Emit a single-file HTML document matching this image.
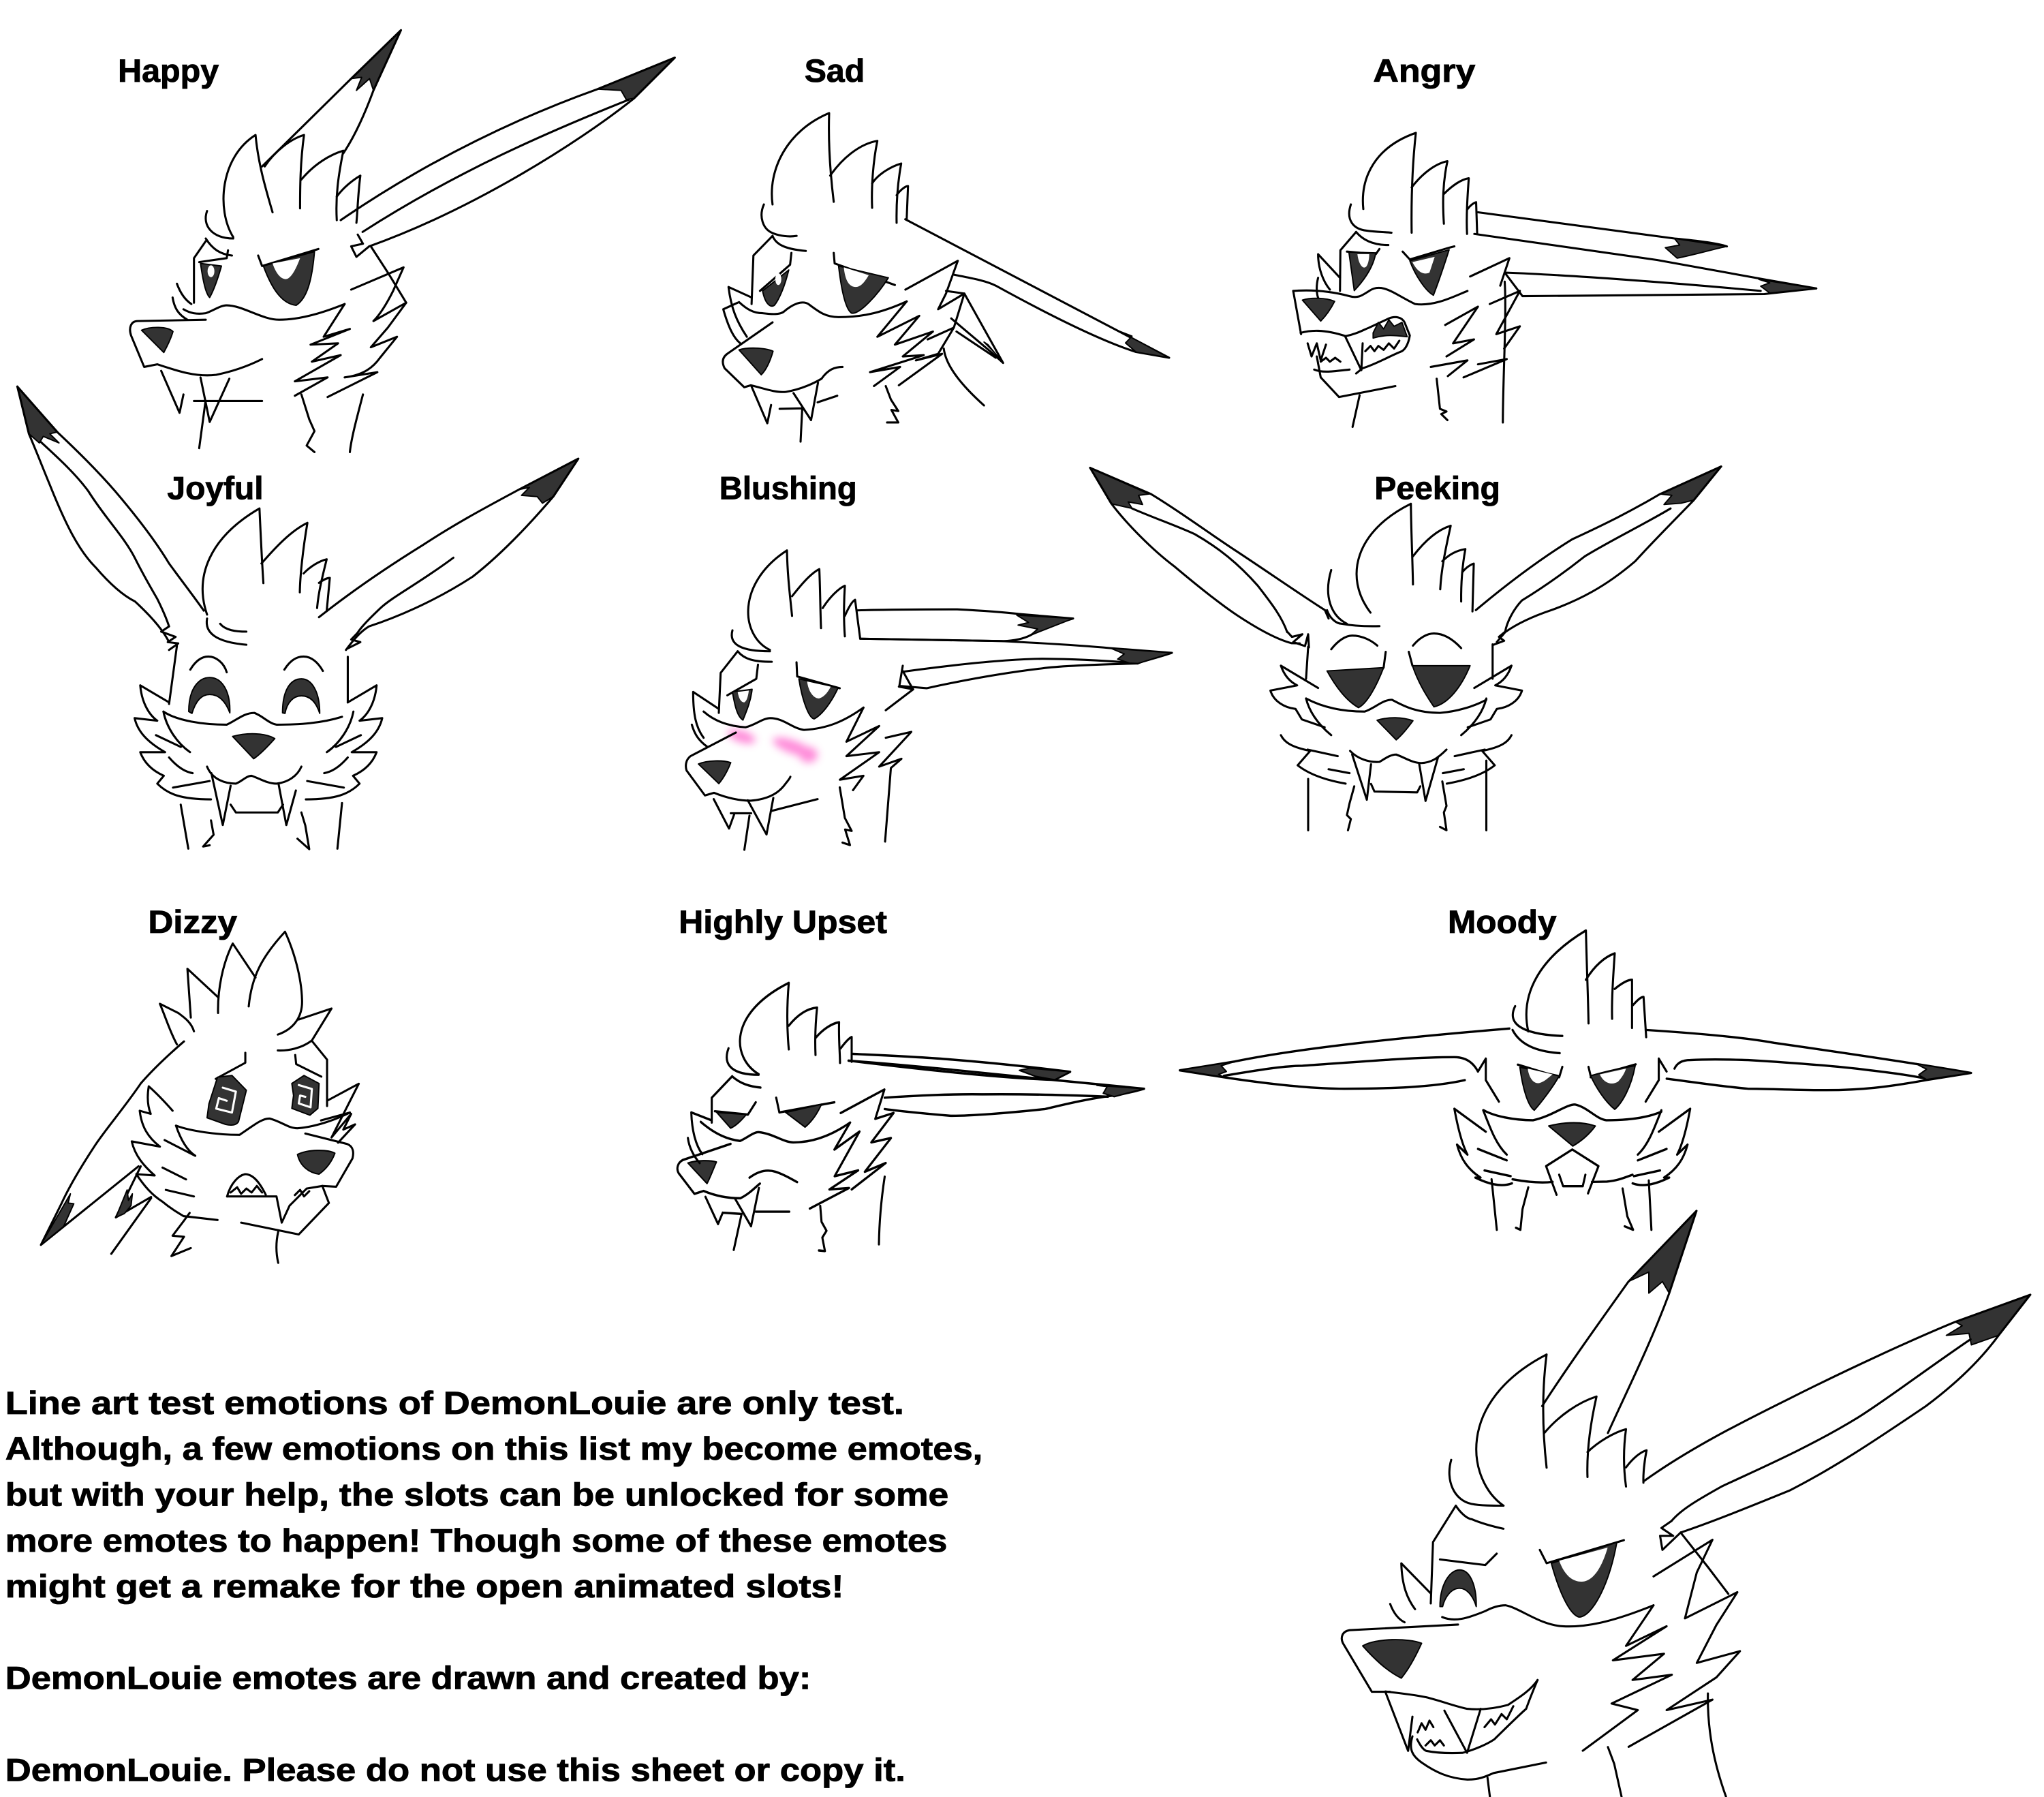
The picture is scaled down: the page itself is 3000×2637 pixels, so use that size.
<!DOCTYPE html>
<html><head><meta charset="utf-8"><style>
html,body{margin:0;padding:0;background:#fff;}
svg{display:block}
.s path,.s ellipse{fill:none;stroke:#000;stroke-width:1.6;stroke-linecap:round;stroke-linejoin:round}
.s path.k{fill:#333;stroke:#000;stroke-width:1}
.s path.w,.s ellipse.w{fill:#fff;stroke:none}
text{font-family:"Liberation Sans","DejaVu Sans",sans-serif;font-weight:bold;fill:#000;stroke:#000;stroke-width:0.45}
</style></head><body>
<svg width="3000" height="2637" viewBox="0 0 1560 1371.3" xmlns="http://www.w3.org/2000/svg">
<defs><filter id="bl" x="-50%" y="-50%" width="200%" height="200%"><feGaussianBlur stdDeviation="3"/></filter></defs>
<rect width="1560" height="1371.3" fill="#fff"/>

<!-- Labels -->
<text x="90" y="62.5" font-size="24.5" textLength="77" lengthAdjust="spacingAndGlyphs">Happy</text>
<text x="614" y="62.5" font-size="24.5" textLength="46" lengthAdjust="spacingAndGlyphs">Sad</text>
<text x="1048" y="62.5" font-size="24.5" textLength="78" lengthAdjust="spacingAndGlyphs">Angry</text>
<text x="127.6" y="381" font-size="24.5" textLength="73.4" lengthAdjust="spacingAndGlyphs">Joyful</text>
<text x="549" y="381" font-size="24.5" textLength="105" lengthAdjust="spacingAndGlyphs">Blushing</text>
<text x="1049" y="381" font-size="24.5" textLength="96" lengthAdjust="spacingAndGlyphs">Peeking</text>
<text x="113" y="712" font-size="24.5" textLength="68" lengthAdjust="spacingAndGlyphs">Dizzy</text>
<text x="518" y="712" font-size="24.5" textLength="159" lengthAdjust="spacingAndGlyphs">Highly Upset</text>
<text x="1105" y="712" font-size="24.5" textLength="83" lengthAdjust="spacingAndGlyphs">Moody</text>

<!-- Body text -->
<text x="4" y="1079" font-size="24.5" textLength="686" lengthAdjust="spacingAndGlyphs">Line art test emotions of DemonLouie are only test.</text>
<text x="4" y="1114" font-size="24.5" textLength="746" lengthAdjust="spacingAndGlyphs">Although, a few emotions on this list my become emotes,</text>
<text x="4" y="1149" font-size="24.5" textLength="720" lengthAdjust="spacingAndGlyphs">but with your help, the slots can be unlocked for some</text>
<text x="4" y="1184" font-size="24.5" textLength="719" lengthAdjust="spacingAndGlyphs">more emotes to happen! Though some of these emotes</text>
<text x="4" y="1219" font-size="24.5" textLength="640" lengthAdjust="spacingAndGlyphs">might get a remake for the open animated slots!</text>
<text x="4" y="1289" font-size="24.5" textLength="615" lengthAdjust="spacingAndGlyphs">DemonLouie emotes are drawn and created by:</text>
<text x="4" y="1359" font-size="24.5" textLength="687" lengthAdjust="spacingAndGlyphs">DemonLouie. Please do not use this sheet or copy it.</text>

<!-- ===== HAPPY ===== -->
<g class="s">
<path class="k" d="M306,23 L268,60 L276,59 L272,69 L282,60 L285,69 Z"/>
<path d="M200,127 L268,60 L306,23 L285,69 C278,88 270,105 262,117"/>
<path class="k" d="M515,44 L456,68 L474,69 L478,76 L484,75 Z"/>
<path d="M260,168 C330,120 400,88 456,68 L515,44 L484,75 C440,110 360,160 281.7,188"/>
<path d="M276.7,177 C350,130 420,100 480,76"/>
<path d="M273,179 L277,186 L268,188 L272,196 L281.7,188"/>
<path d="M178,181 C165,160 168,120 195,103 C197,125 203,145 208,162"/>
<path d="M202,127 C210,115 222,106 232,103 C229,125 229,145 229,159"/>
<path d="M230,137 C240,125 252,118 262,115 C258,135 256,150 257,168"/>
<path d="M257,150 C263,142 270,137 275,134 C273,150 273,160 272,170"/>
<path d="M158,161 C154,172 162,182 178,182"/>
<path d="M157,182 C162,190 168,194 177,195"/>
<path d="M157,184 L148,197 L148,231"/>
<path d="M152,200 L173,197 L174,191"/>
<path d="M197,195 L200,203 L243,190"/>
<path class="k" d="M153,201 C155,215 157,224 160,227 C164,220 167,210 169,203 Z"/>
<ellipse class="w" cx="161" cy="207" rx="2.6" ry="4.5"/>
<path class="k" d="M201,203 C208,222 216,232 226,233 C234,228 238,215 240,192 Z"/>
<path class="w" d="M208,201 C211,210 215,213 218,213 C222,213 226,205 229,197 Z"/>
<path d="M135,216.5 C137,222 140,228 146,232 M131.7,227 C133,235 136,240 143,244"/>
<path d="M140,236 C145,239 150,240 157,239 C163,237 168,233 173,233 C185,233 200,244 213,244 C230,244 248,238 263,232"/>
<path d="M157,244 L105,245 C100,245 98,250 100,256 L110,280 L120,278 C135,283 150,288 165,286 C180,283 192,278 200,274"/>
<path class="k" d="M108,252 C115,249 128,249 132,253 C130,260 127,265 125,269 Z"/>
<path d="M123,283 L137,315 L140,301 M153,288 L160,322 L175,289 M148,306 L200,306"/>
<path d="M156.7,307 L152,342 M230,301 L236,320 L240,329 L234,340 L240,345 M277,301 C272,320 268,335 267,345"/>
<path d="M263,232 L247,257 L267,251 L237,263 L258,262 L238,276 L260,271 L225,291 L250,288 L225,302"/>
<path d="M268,221 L308,204 L300,222 C295,232 290,240 285,245 L310,231 L296,250 L283,265 L303,257 L290,273 C285,280 278,286 263,288 L288,284 L250,303"/>
<path d="M283,188 L296,208 L310,231"/>
</g>

<!-- ===== SAD ===== -->
<g class="s">
<path d="M589.6,156 C586,130 600,100 632.8,86.3 C632,110 634,135 636.3,154"/>
<path d="M633.6,134 C642,122 655,110 669.6,107.5 C666,125 665,145 665.6,158.6"/>
<path d="M665.6,140 C670,133 680,127 687.8,124.8 C685,140 684,155 684.3,170"/>
<path d="M684.3,149 C687,145 691,142 693,142 L692,167"/>
<path d="M583,156 C579,165 582,175 590,178 C595,180 602,181 608,180"/>
<path d="M589.6,180 C592,186 598,190 615,191.5"/>
<path d="M589.6,180 L575,195 L573.6,232"/>
<path d="M573.6,227 L556,219 C558,235 562,245 570,257 M563,231 L552,236 C556,250 560,258 565,262"/>
<path d="M604,193 L603,202 L580,222 M636.3,193 L637,201 L683,217.5"/>
<path class="k" d="M582,222 C584,232 588,235 591,233 C595,228 599,218 602,206 Z"/>
<ellipse class="w" cx="594" cy="213" rx="2.3" ry="4.5"/>
<path class="k" d="M640,203 C642,220 645,236 650,239 C656,240 670,225 678,212 Z"/>
<path class="w" d="M644,204 C645,214 648,219 653,219 C657,219 660,215 663,210 Z"/>
<path d="M564,230.5 C570,236 575,239 582,239 C590,240 595,240 598,238 C605,232 612,229 617,232 C625,238 630,242 640,242 C655,242 670,240 692,230"/>
<path d="M589.6,246 L555,270 C551,273 551,277 553,281 L568,295.5 L573,294 C582,296 592,300 600,299 C612,297 622,292 627,289 C632,282 637,280 643,280"/>
<path class="k" d="M564,267 C570,265 583,265 590,268 C588,275 585,282 581,286 Z"/>
<path d="M573.6,295 L585.6,323 L588.5,309 M605.6,300 L619,320.6 L624.3,292 M595,312 L612,311.6 M624,307 L639,302 M612.3,311 L611,337"/>
<path d="M676,294.6 L680,305 L685.6,313.7 L680.3,312.8 L685.6,322.4 L677,322.4 M720.3,266 C722,280 735,295 751,309.4"/>
<path d="M690.9,167.3 L892.3,273 L867,268.6 C840,260 800,240 760,218 C752,214 740,212 728.3,209.7"/>
<path class="k" d="M855,253 L864,256.5 L859,261.7 L867,268.6 L892.3,273 Z"/>
<path d="M722,222 L736,224 L765.6,277 L758,270 L726,243 M730,253 L760,273"/>
<path class="k" d="M751,261 L754,263 L765.6,277 L759,269 Z"/>
<path d="M692,230 L669.6,257 L701.6,241 L683,263 L712,253 L689,272 L705,271 L664,284 L687,280 L667,294.6"/>
<path d="M691,221 L731,199 L722,224 L716,236 L736,224 L728,250 L708,259 L728,250 L716,270 L699,275 L719,270 L686,294"/>
</g>

<!-- ===== ANGRY ===== -->
<g class="s">
<path d="M1040.5,159.5 C1038,135 1050,112 1080.6,101.4 C1078,125 1077,150 1077.4,177.6"/>
<path d="M1077.4,143 C1085,133 1095,125 1104.7,123 C1101,140 1101,155 1102,170.7"/>
<path d="M1102,148 C1108,142 1115,137 1121,136 C1120,150 1119,165 1119.7,178.5"/>
<path d="M1119.7,160 C1122,157 1124,155 1126.6,154.3 L1127.4,178.5"/>
<path d="M1031,156 C1027,168 1033,175 1043,176 C1050,177 1056,177 1062,177.6"/>
<path d="M1035,177 C1040,183 1048,187 1059.6,187"/>
<path d="M1035,177 L1023,191 L1022.7,222"/>
<path d="M1022.7,212 L1006,194 C1006,205 1010,215 1015,221 M1006,212 C1004,220 1005,228 1008,230"/>
<path d="M1028,192 L1050,194 L1052.8,190 M1070.5,192 L1076,198 L1106,189 L1110,188"/>
<path class="k" d="M1029.5,192.4 L1050,193 C1048,205 1040,215 1033.6,221.8 Z"/>
<path class="w" d="M1036,194 C1037,202 1040,205 1042,204 C1044,203 1045,198 1045,194 Z"/>
<path class="k" d="M1076,199 C1080,210 1088,222 1094,225.3 C1098,215 1103,200 1106,190.6 Z"/>
<path class="w" d="M1078,200 C1082,208 1087,210 1091,208 L1095,196 Z"/>
<path d="M987,222 C1000,221 1015,222 1030,226 C1037,228 1040,225 1045,222 C1055,215 1065,225 1080,232 C1095,234 1110,226 1120,222"/>
<path d="M987,222 L993,255"/>
<path class="k" d="M994,229 C1000,227 1012,227 1018.6,230 C1015,237 1011,242 1008,245 Z"/>
<path d="M992.6,254 C1000,252 1010,251 1027,256.5 C1035,255 1040,252 1045,250 L1060,243 C1065,241 1070,242 1072,246 L1076,256 C1075,262 1073,266 1070,268 C1060,272 1050,278 1040,281 L1035,285"/>
<path class="k" d="M1048,254 L1052,246 L1056,251 L1060,244 L1064,249 L1070,246 L1074,257 C1065,256 1058,255 1048,258 Z"/>
<path d="M998,262 L1001,272 L1005,262 L1008,275 L1012,263 M1008,276 L1012,273 L1015,276 L1019,273 L1023,276"/>
<path d="M1026.8,257 L1039,282.5 L1040,262 M1042,268 L1046,264 L1049,268 L1052,264 L1056,267 L1060,262 L1064,266 L1068,260"/>
<path d="M1003,282 C1010,285 1020,283 1030,282 M1005,272 L1008,288 L1022,303 L1065,294.6"/>
<path d="M1037.7,301.6 L1032.3,325.8 M1096.5,289 L1099,312 L1104,314 L1100,316 L1104.7,320.6 M1148.4,214.9 C1150,240 1147,290 1147,322.4"/>
<path d="M1122,211 L1152,197 L1145,218 M1137,232 L1160,222 L1142,255 L1160,249 L1148,266 M1103,248 L1128,234 L1109,262 L1125,259 L1104,272 M1092,280 L1120,275 L1105,287 M1128,278 L1150,274 L1117,288"/>
<path d="M1128,162 L1278,182 C1300,184 1312,186 1318,188"/>
<path d="M1125.2,178.5 L1264.6,198.4 L1346.6,213.2 L1386.2,220.1"/>
<path class="k" d="M1278,182 L1282,187 L1271,189 L1280,197 C1295,194 1308,190 1318,188 Z"/>
<path d="M1148.4,208 C1200,210 1280,216 1343.8,222 M1148.4,208 L1162,226 L1346.6,224.4 L1386.2,220.1"/>
<path class="k" d="M1342.4,213.2 L1350.7,215.8 L1343.8,218.4 L1350.7,223.6 L1386.2,220.1 Z"/>
</g>

<!-- ===== JOYFUL ===== -->
<g class="s">
<path class="k" d="M13.2,295 L44,329.6 L38,331 L45,338 L33,333 L30,338 L22,331 Z"/>
<path d="M13.2,295 L22,331 C28,345 33,358 38,370 C50,400 60,420 73,433 C85,447 95,455 103,459 C115,470 124,480 129,490"/>
<path d="M13.2,295 L44,330 C60,345 75,360 88,375 C105,395 120,415 129,430 C140,445 150,458 155.5,466"/>
<path d="M30.8,337 C45,350 58,362 67.5,375 C80,395 95,410 103,426 C110,440 116,450 120,457 C124,465 127,472 129,478"/>
<path d="M129,478 L123,482 L134,486 L128,490 L136,491 L129,496"/>
<path class="k" d="M441.4,350 L396,373.6 L404,372 L398,378 L410,379 L414,384 L422.4,378.8 Z"/>
<path d="M243.4,471 C270,450 300,430 322.6,416 C350,398 375,385 396,373.6 L441.4,350 L422.4,378.8 C400,405 380,425 360.8,440 C330,460 300,472 281.6,478 C275,482 270,488 264,496"/>
<path d="M346,425.6 C320,445 300,455 290.4,464 C282,472 276,478 272.8,483"/>
<path d="M272.8,483 L268,488 L275,490 L265,495"/>
<path d="M158,469 C148,440 160,410 198,388 C199,410 200,430 201,445"/>
<path d="M199.5,430 C210,418 222,405 234.6,399 C231,420 229,440 228.8,452"/>
<path d="M231.7,437.6 C237,432 244,428 249.3,426.8 C246,440 243,452 242,464"/>
<path d="M243.4,444.8 C246,443 249,441 251.7,441 L249.3,466.4"/>
<path d="M158,472 C156,483 165,490 188,492 M168,476 C172,481 180,482 188,482"/>
<path d="M135,492.8 L129,537.2 M265.4,501.2 L265.4,536"/>
<path d="M145.2,511 C150,503 155,501 159,501 C165,501 171,506 173,513"/>
<path d="M217,511 C222,503 227,501 231.7,501 C238,501 243,506 246.4,512"/>
<path class="k" d="M144,543 C144,525 152,517 160,517 C169,517 176,527 175.4,544 C172,535 167,530 160,530 C153,530 149,536 146.5,544.4 Z"/>
<path class="k" d="M215.6,544 C215.6,526 222,518 230,518 C238,518 244,528 244,544.4 C241,535 236,531 230,531 C224,531 219,536 217.5,544.4 Z"/>
<path d="M124.7,543 C135,550 155,553 173,553 C180,550 186,544 194,544 C200,546 205,552 211,553 C228,553 245,552 261,547"/>
<path class="k" d="M177.5,562 C188,559 202,559 209.7,563.6 C204,570 198,576 193.6,579 Z"/>
<path d="M158,585 C162,595 172,598 180,598 C185,596 188,592 192,592 C198,594 204,598 211,598 C220,597 227,592 230,585"/>
<path d="M161.3,590 L170,629.6 L176,599.6 M212.6,598.4 L218.5,629.6 L225.8,603.2 M176,614 L180,620 L212,620 L216,614"/>
<path d="M137.9,614 L143.7,647.6 M161,626 L163,637 L155,646 L160,645 M227,640 L236,648 L233,630 L230,620 M261,612.8 L257.5,647.6"/>
<g>
<path d="M107,523 L129,536 M107,523 C108,535 113,545 120,550 L102.7,548 C105,558 112,566 126,574 L107,574 C110,582 116,588 125,592 L120,598 C128,606 138,610 161,610"/>
<path d="M124.7,543 C127,555 135,567 145,574 M119,561 L138,570 M129,578 C135,585 141,589 147,590 M132,601 L160,596"/>
</g>
<g transform="translate(394.4,0) scale(-1,1)">
<path d="M107,523 L129,536 M107,523 C108,535 113,545 120,550 L102.7,548 C105,558 112,566 126,574 L107,574 C110,582 116,588 125,592 L120,598 C128,606 138,610 161,610"/>
<path d="M124.7,543 C127,555 135,567 145,574 M119,561 L138,570 M129,578 C135,585 141,589 147,590 M132,601 L160,596"/>
</g>
</g>

<!-- ===== BLUSHING ===== -->
<g filter="url(#bl)" fill="#ff6fd0" opacity="0.8">
<ellipse cx="566" cy="562" rx="11" ry="4.5" transform="rotate(18 566 562)"/>
<ellipse cx="605" cy="570" rx="16" ry="5" transform="rotate(20 605 570)"/>
<ellipse cx="617" cy="576" rx="7" ry="6"/>
</g>
<g class="s">
<path d="M587.6,496 C565,485 562,445 600.6,420 C601,440 603,455 604.5,470"/>
<path d="M604.5,455 C610,448 618,438 625.3,434.3 C626,450 626,465 626.6,479.3"/>
<path d="M627.9,464 C633,456 640,449 644.8,447 C644,460 644,475 644.8,485.6"/>
<path d="M644.8,470 C647,465 650,459 652.6,457.7 L656.5,487.4"/>
<path d="M559,481 C556,492 566,497 587.6,497 M563,497 C568,503 575,505 589,505"/>
<path d="M563,497 L550,513.5 L548.6,544"/>
<path d="M653.9,465.8 C680,465 710,465 730.6,465 C750,466 765,467 777.4,468.5 L819,472 C805,476 795,480 786.5,484.7 C780,488 772,489 765.7,489.2 L656.5,487.4"/>
<path class="k" d="M776,469.4 L785,475 L777,477 L792,480 L786.5,484.7 L819,472 Z"/>
<path d="M656.5,487.4 C700,488 740,489 764.4,489.2 C800,491 830,493 847.6,494.6 L894.4,498.2 C880,503 870,505 868.4,506.3 C840,507 810,508 795.6,510 C770,513 740,518 707.2,525.2 L686.4,523.4 L689,508"/>
<path d="M689,512.6 C730,507 770,503 795.6,502.7 C830,503 855,505 868.4,506.3"/>
<path class="k" d="M847.6,494.6 L858,499 L853,503 L862,506 L868.4,506.3 L894.4,498.2 Z"/>
<path d="M578.5,507.2 L577.2,518 L555.1,530.6 M607.9,505.4 L608.4,516.2 L640.9,525.2"/>
<path class="k" d="M559,528 C561,540 563,547 567,549.5 C570,542 573,535 574,526 Z"/>
<path class="w" d="M563,528 C564,534 566,536 568,536 C570,535 571,531 571.5,527 Z"/>
<path class="k" d="M609.7,518 C612,533 617,548 621.4,548.6 C628,545 635,535 639.6,525 Z"/>
<path class="w" d="M616,520 C617,528 621,533 625,533 C629,532 632,528 634,524 Z"/>
<path d="M537,543 C545,550 555,554 569,555 C577,553 582,548 588,548 C598,548 605,556 613.6,557 C632,556 645,550 659,540"/>
<path d="M561.6,559 L527,577 C523,580 523,585 524,588 L538,607 L545,605 C555,609 565,611 573,611 C585,610 593,606 598,600 C601,596 603,594 603.2,592.7"/>
<path class="k" d="M533,583 C540,580 552,580 557.7,582 C555,589 552,594 548.6,598 Z"/>
<path d="M544.7,609.8 L556.4,632.3 L560.3,621.5 M570.7,610.7 L585,636.8 L590.2,608.9 M557.7,620.6 L573.3,620.6 M588.9,618.8 L624,609.8"/>
<path d="M572,622.4 L568.1,648.5 M640.9,600.8 L644.8,624.2 L650,634.1 L645,633 L648.7,644.9 L643,643 M679.9,586.4 L675.5,642.2"/>
<path d="M548.6,541 L529,528 C529,545 531,555 537,563 M528,553 C530,560 533,565 540,570"/>
<path d="M659,540 L646,566 L671,554 L646,577 L671,574 L641,595 L659,592 L651,603"/>
<path d="M686,524 L697,526 L676,542 M676,563 L695.5,558.5 L671,585 L688,579 L680,586 M689,512 L696.8,526"/>
</g>

<!-- ===== PEEKING ===== -->
<g class="s">
<path class="k" d="M832,357 L877,377 L869,378 L872,385 L861,383 L864,388 L848,384.4 Z"/>
<path d="M832,357 L848,384 C860,400 880,420 896,432 C915,448 930,460 944,469.4 C960,480 975,488 985.6,490.8 L992,491"/>
<path d="M832,357 L878.4,377 C900,390 920,405 944,420.8 C970,438 990,452 1011.2,465.6 L1014,472"/>
<path d="M864,388 C880,395 900,402 912,407.7 C930,418 945,430 960,447 C970,460 978,470 982.4,482.4"/>
<path d="M982.4,482 L986,486 L994,484 L987,490 L996,493 L998.4,484 L999,494"/>
<path class="k" d="M1313.6,356 L1267,377 L1276,378 L1270,385 L1283,384 L1292.8,381.6 Z"/>
<path d="M1313.6,356 L1292.8,381.6 C1275,400 1260,415 1248,428.3 C1225,448 1205,458 1184,465.6 C1165,472 1155,478 1148.8,482.4 L1142.4,489.9"/>
<path d="M1313.6,356 L1267,377 C1245,390 1225,400 1200,411.5 C1170,430 1145,450 1126.4,465.6"/>
<path d="M1275,388 C1255,400 1230,412 1209.6,424.5 C1190,440 1175,450 1161.6,458.2 C1155,465 1150,475 1148.8,482"/>
<path d="M1148.8,482 L1144,486 L1148,489 L1140,492"/>
<path d="M1046,467.5 C1025,440 1035,405 1076.8,384.4 C1077,405 1078,425 1078.4,446"/>
<path d="M1078.4,424.5 C1088,412 1098,404 1107.2,401.2 C1103,420 1100,435 1099.2,449.7"/>
<path d="M1100.8,428.3 C1106,423 1112,420 1118.4,419 C1116,432 1115,445 1115.2,459"/>
<path d="M1116,436.7 C1119,433 1122,431 1124.8,430.1 L1123.8,466.6"/>
<path d="M1016,435 C1010,455 1016,470 1028,476 M1012.8,465.6 C1015,472 1020,476 1024,476 C1035,478 1045,478 1052.8,477.8"/>
<path d="M998.4,493.6 L996.8,517.9 M1139.2,491.7 L1139.2,517.9"/>
<path d="M1016,495.5 C1021,489 1027,485 1032,485 C1040,485 1047,489 1051.2,492.7 M1078.4,492.7 C1083,487 1089,483.4 1094.4,483.4 C1103,483.4 1110,489 1115.2,494.6"/>
<path d="M1057.6,497.4 L1056,509.5 M1075.2,497.4 L1078,508"/>
<path class="k" d="M1012.8,512 L1056,509.5 C1050,525 1043,537 1036.8,540 C1028,535 1020,525 1012.8,512 Z"/>
<path class="k" d="M1078,508 L1122,508 C1115,525 1105,537 1094.4,539.4 C1088,530 1082,520 1078,508 Z"/>
<path d="M996.8,533 C1010,540 1025,543 1041.6,543 C1050,540 1055,534 1062.4,534 C1070,538 1080,544 1099,544 C1112,543 1125,539 1134.4,534"/>
<path class="k" d="M1051,549.6 C1060,547 1070,547 1078.4,550 C1074,556 1070,561 1065.6,564.6 Z"/>
<path d="M1030.4,573 C1036,579 1045,582 1052.8,581.4 C1057,579 1061,575.8 1065.6,575.8 C1072,578 1078,582.3 1084.8,582.3 C1092,582 1097,579 1104,572"/>
<path d="M1032,575.8 L1043.2,610.3 L1046.4,583.2 M1083.2,583.2 L1088,611.2 L1097.6,577.6 M1046.4,598.2 L1049,604 L1081.6,604.7 L1084,600"/>
<path d="M998.4,594.4 L998.4,633.6 M1033.6,600 L1030,613 L1028,622 L1031,625 L1028.8,633.6 M1100.8,596.3 L1104,615 L1102,620 L1104,633.6 L1099,631 M1134.4,580.4 L1134.4,633.6"/>
<g>
<path d="M977.6,508 L1006,525 M977.6,508 C980,515 984,520 990,523 L969.6,527 C972,535 980,540 988.8,541 L993.6,549 L1011,555 M977.6,561 C980,566 985,570 1000,573 L990.4,584 C998,590 1010,595 1027,598"/>
<path d="M996.8,533 C999,542 1005,552 1016,561 M998,572 L1021,577 M1014,587 L1030,590"/>
</g>
<g transform="translate(2131.2,0) scale(-1,1)">
<path d="M977.6,508 L1006,525 M977.6,508 C980,515 984,520 990,523 L969.6,527 C972,535 980,540 988.8,541 L993.6,549 L1011,555 M977.6,561 C980,566 985,570 1000,573 L990.4,584 C998,590 1010,595 1027,598"/>
<path d="M996.8,533 C999,542 1005,552 1016,561 M998,572 L1021,577 M1014,587 L1030,590"/>
</g>
</g>

<!-- ===== DIZZY ===== -->
<g class="s">
<path d="M189.8,768 C192,745 200,730 217.5,711 C224,725 230,745 230.5,763 C231,775 225,785 212,789.5"/>
<path d="M166.4,773 C166,755 170,735 177.6,720 L195,746"/>
<path d="M145.6,776.5 L143,739.3 L166.4,761"/>
<path d="M148,787 C146,780 140,776 136,773 L122,766 C127,778 130,788 135,797"/>
<path d="M228,778 L253,769.6 L238,794 M212,801.6 C220,802 230,800 238,794"/>
<path d="M238.3,794.7 L249.6,808.6 L249.6,844"/>
<path d="M249.6,840 L273.8,827 L253,868 L268,850 L262,862 L271,858 L258,872 M245,855 L267,849"/>
<path d="M140.4,794.7 C125,808 115,818 107.4,826.8 C95,845 82,860 72.8,873.6 C62,890 53,905 46.8,918.6 L31.2,950 L105.7,890"/>
<path class="k" d="M31.2,950 L53.7,911 L52,918 L56.3,918.6 L48.5,936 Z"/>
<path d="M88.4,929 L107.4,890 M88.4,929 L115.3,913.4 M84.9,956.8 L115.3,914.3"/>
<path class="k" d="M88.4,929 L97,908 L98,916 L101,911 L100,920 L95,926 Z"/>
<path d="M187.2,803.4 L187.2,811 L164.6,823.3 M225.3,805.1 L226,812 L245.2,821.6"/>
<path class="k" d="M166,822 L177,820.7 L188,832 L182,856 C180,859 176,859 172,858 L158,853 L159.4,842.4 Z"/>
<path class="k" d="M222.7,826.8 L232,820.7 L243.5,826.8 L242.6,845.8 L236.5,851 L222.7,845.8 L224,836 Z"/>
<g style="stroke:#fff;stroke-width:1.8">
<path style="stroke:#fff" d="M170,830 L180,833 L177,849 L165,846 L167,838 L173,840"/>
<path style="stroke:#fff" d="M228,828 L238,831 L237,845 L228,842 L229,836 L233,837"/>
</g>
<path d="M134.3,859 C145,863 165,866 182.8,866 C192,860 200,853 206,853.6 C215,856 220,861 227,861 C240,860 255,855 267,849"/>
<path d="M233,865 L265,873 C270,875 270,880 269,884 L256.5,905.6 L246,905"/>
<path class="k" d="M227,881 C235,877 250,877 255.6,880 C253,887 249,892 243.5,896 C236,895 229,890 227,881 Z"/>
<path d="M173.3,913 C176,903 182,897 187,896 C193,896 198,902 202.8,911.7 M176,910 L181,906 L184,911 L188,907 L192,910 L196,905 L200,910"/>
<path d="M173.3,913 L211,913 L215,933 L221,920 L234,907 L246,905 M246,905 L251,918 L228,942 L184,933 M225,912 L229,908 L232,913 L236,909"/>
<path d="M212.3,940 C210,950 211,958 212.3,963.7 M144.7,925.6 L140,932 L131.7,943 L140.4,943.8 L130.8,958.5 L145.6,952.4"/>
<path d="M131.7,847.6 C125,840 118,833 113.5,829 C112,838 113,845 115,850 L106.6,847.6 C108,860 113,868 122,875 L100.5,871 C103,882 110,890 118,897 L104,896 C110,905 116,912 124,917 C130,922 135,925 140,928 L166,931"/>
<path d="M134.3,859 C138,870 143,878 149,882 M125.6,870 L149,882 M124,891 L142,900 M126.5,908 L148,913"/>
</g>

<!-- ===== HIGHLY UPSET ===== -->
<g class="s" transform="translate(0,-90.9) scale(1,1.122)">
<path d="M579,811.6 C558,800 556,770 602,749.5 C600,770 601,785 602,794.7"/>
<path d="M602,778.6 C608,772 615,767 623.6,766.3 C622,780 622,790 622.4,798.5"/>
<path d="M622.4,787 C628,781 635,777 640.4,776.3 C640,788 641,796 641.1,803.9"/>
<path d="M641.6,794 C645,790 648,787 650,786.3 L650,803.1"/>
<path d="M556,794 C551,806 560,812 579,812 M558.8,813.1 C565,818 572,820 580.4,820.7"/>
<path d="M558.8,813 L543.2,827.6 L543.2,844.5"/>
<path d="M651.2,797.8 C680,799 705,800 725.6,801.6 C760,804 790,807 816.8,810 L804.8,815.4 C780,814 730,808 647.6,802.4"/>
<path class="k" d="M778,809 L786,807.5 L816.8,810 L805,815.4 L790,813 Z"/>
<path d="M647.6,802.4 C700,808 760,814 802.4,815.4 L873.2,821.5 C860,825 850,826 843.2,826.9 C820,830 800,835 797.6,835.3 C770,838 740,840 725.6,839.9 C700,838 680,836 675.2,835.3"/>
<path d="M675.2,827.6 C700,826 730,825 749.6,825.3 C790,825 820,826 845.6,826.9"/>
<path class="k" d="M837.2,819.2 L845,820 L842,824.6 L850.4,826.9 L873.2,821.5 Z"/>
<path d="M576.8,830.7 L570.8,839.1 L545.6,836.8 M592.4,827.6 L594.8,837.6 L636.8,830.7"/>
<path class="k" d="M547,837.6 L569.6,839 C565,844 561,847 557.6,848.3 Z"/>
<path class="k" d="M599.6,837.6 L627,832 C623,840 618,845 614.4,847.6 Z"/>
<path d="M534.8,844 C545,852 555,856 564.8,857 C570,855 575,851 579,851 C590,852 598,858 605.6,858 C625,858 640,850 648.8,844.5"/>
<path d="M557.6,859 L521,870 C517,872 516,876 518,879 L530,893 L537,891 C545,894 555,896 565,896 C572,893 577,888 580,886"/>
<path d="M572,882 C578,878 585,876 592,878 C599,880 604,883 608.4,885"/>
<path class="k" d="M525,872 C532,870 542,870 546.8,871.3 C544,877 542,882 539.6,886 Z"/>
<path d="M538.4,895 L548,913.5 L551.6,905.8 M561.2,896.6 L573.2,915 L579.2,889 M551.6,905.8 L564.8,906.6 M576.8,905.1 L602.4,905.1"/>
<path d="M566,906.6 L560,931.1 M626,901.2 L627,912 L630.8,918.1 L627.6,922.7 L629.6,931.9 L625,931.5 M675.2,881.3 C672,900 671,915 670.8,927.3"/>
<path d="M543,843 L527.6,837.6 C528,850 531,860 536,866 M525,855 C526,862 530,868 534,872"/>
<path d="M648.8,844.5 L636.8,862.9 L656,850.6 L637,881 L655,877 L633,890 L648,889 L618,903"/>
<path d="M641.6,838 L675,822 L668,842 L682,838 L665,858 L680,855 L660,878 L676,872 L650,890"/>
</g>

<!-- ===== MOODY ===== -->
<g class="s" transform="translate(0,-61.9) scale(1,1.094)">
<path d="M1166.4,776 C1160,750 1175,725 1210.4,705.6 C1211,730 1212,750 1212.4,770.4"/>
<path d="M1210.4,740 C1217,730 1225,724 1232.4,721.6 C1231,740 1230,755 1230.4,767.2"/>
<path d="M1232.4,746.4 C1237,743 1242,740 1245.6,740 L1245.6,773.6"/>
<path d="M1246.4,757.6 C1249,755 1252,752 1254.4,752 L1256.4,780"/>
<path d="M1156.4,758.4 C1150,770 1160,778 1192.4,779.2 M1154.4,775 C1160,785 1172,790 1190.4,791.2"/>
<path d="M1152,774 C1100,778 1000,786 942.4,797 L900.4,803.2 L934,808 C970,813 1000,816 1026,816 C1060,816 1094,815 1118,810"/>
<path d="M934,807 C960,803 980,800 994,800 C1040,797 1080,794 1110,794 C1118,794 1124,797 1128,804"/>
<path class="k" d="M900.4,803 L942.4,797 L932,800 L936,804 L930,806 L934,808 Z"/>
<path d="M1256,775 C1290,777 1330,780 1354,784 C1400,790 1460,798 1504.4,805 L1470,810 C1440,815 1420,817 1394,817 C1370,817 1350,816 1334,816 C1310,814 1290,811 1272,809"/>
<path d="M1278,802 C1280,798 1284,796 1290,796 C1310,795 1330,796 1334,796 C1370,798 1400,800 1426,803 C1445,805 1460,807 1470,809"/>
<path class="k" d="M1504.4,805 L1462,798.4 L1470.4,802.4 L1464.4,806.4 L1470.4,809.6 Z"/>
<path d="M1128,804 L1134,795 L1134,810 L1144,825 M1272,804 L1266,795 L1266,810 L1256,825"/>
<path d="M1158.4,799.2 L1190,808 M1192.4,800.8 L1190,808 M1212.4,800.8 L1214,807 M1248.4,799 L1214,808"/>
<path class="k" d="M1160,801 C1162,815 1166,828 1171,831 C1176,826 1186,814 1190,807 C1185,806 1170,803 1160,801 Z"/>
<path class="w" d="M1166,802 C1167,809 1171,813 1175,812 C1179,811 1182,808 1185,806 Z"/>
<path class="k" d="M1214,807 C1225,804 1240,801 1248,800 C1245,815 1238,826 1232.4,830.4 C1225,825 1218,815 1214,807 Z"/>
<path class="w" d="M1221,806 C1224,812 1230,814 1235,811 C1238,808 1240,805 1241,802 Z"/>
<path d="M1132.4,831 C1140,835 1155,838 1170,838 C1185,835 1195,827 1202,827 C1212,829 1218,837 1226,838 C1245,838 1258,836 1268,832"/>
<path class="k" d="M1182,842 C1195,839 1208,839 1217.6,842 C1212,849 1206,853 1200.4,856 Z"/>
<path d="M1200,858.4 L1180,870 L1188,890 M1200,858.4 L1220,870 L1212,889 M1190,876 L1193,884 L1208,884 L1210,876"/>
<path d="M1154.4,879.2 C1165,881 1175,882 1185,881 M1215,881 L1226.4,880.8 C1235,880 1240,878 1246,876"/>
<path d="M1138.4,879.2 L1142.4,914.4 M1166.4,884.8 L1162,900 L1160.4,914.4 L1157,913 M1238.4,885.6 L1242,905 L1246.4,914.4 L1240,912 M1258.4,880 L1260.4,914.4"/>
<g>
<path d="M1110,830 L1134,846 M1110,830 C1113,845 1116,855 1120,862 L1112,855 C1115,865 1120,872 1130,878 L1126,878 C1135,882 1145,885 1154,882"/>
<path d="M1132,831 C1138,845 1142,855 1150,862 M1128,858 L1150,866 M1133,873 L1153,877"/>
</g>
<g transform="translate(2400,0) scale(-1,1)">
<path d="M1110,830 L1134,846 M1110,830 C1113,845 1116,855 1120,862 L1112,855 C1115,865 1120,872 1130,878 L1126,878 C1135,882 1145,885 1154,882"/>
<path d="M1132,831 C1138,845 1142,855 1150,862 M1128,858 L1150,866 M1133,873 L1153,877"/>
</g>
</g>

<!-- ===== BIG HEAD ===== -->
<g class="s">
<path class="k" d="M1294.8,924 L1242.8,978 L1258.4,970.7 L1258.4,986.8 L1268.8,978 L1274,986.8 Z"/>
<path d="M1294.8,924 L1242.8,978.1 C1220,1010 1195,1045 1177,1073 M1294.8,924 L1274,986.8 C1260,1025 1240,1065 1227.2,1093.5"/>
<path class="k" d="M1549.6,988 L1492.4,1008.7 L1497.6,1011.7 L1485.5,1019 L1502.8,1017.5 L1504.6,1026.3 L1525.4,1019 Z"/>
<path d="M1255,1130 C1290,1105 1330,1085 1365.9,1067.2 C1410,1045 1460,1022 1492.4,1008.7 L1549.6,988 L1525.4,1019 C1510,1040 1490,1058 1469.9,1073 C1430,1100 1400,1120 1365.9,1137.4 C1330,1152 1305,1162 1282.7,1169.5"/>
<path d="M1504,1022 C1470,1045 1440,1068 1417.9,1081.8 C1380,1105 1340,1122 1313.9,1134.4 C1295,1145 1283,1152 1275.7,1160.7"/>
<path d="M1275.7,1160.7 L1268,1166 L1277,1172 L1267,1172 L1268.8,1182.7 L1282.7,1169.5"/>
<path d="M1147.5,1149 C1120,1130 1110,1070 1180.4,1033.6 C1177,1060 1177,1090 1180.4,1120"/>
<path d="M1178.7,1093.5 C1190,1080 1205,1070 1218.5,1065.7 C1213,1090 1211,1110 1211.6,1127.1"/>
<path d="M1211.6,1108.1 C1220,1100 1232,1093 1241,1090.6 C1239,1105 1239,1120 1241,1134.4"/>
<path d="M1241,1119.8 C1246,1113 1252,1108 1256.7,1106.7 C1255,1115 1254,1125 1254.3,1131.5"/>
<path d="M1107.6,1114 C1103,1130 1110,1145 1123,1147.6 C1130,1149 1140,1149 1147.5,1149"/>
<path d="M1111.1,1149 C1115,1155 1120,1159 1123.2,1159.3 C1132,1163 1140,1165 1147.5,1166.6"/>
<path d="M1111.1,1149 L1093.7,1176.8 L1092,1223.6"/>
<path d="M1099,1190 L1133.6,1194.3 L1142.3,1185.6 M1175.2,1182.7 L1180.4,1192.9 L1239.4,1175.3"/>
<path class="k" d="M1099,1226 C1099,1210 1106,1198 1114,1198 C1122,1198 1127,1210 1126.7,1226 C1124,1217 1119,1212 1114,1212 C1108,1212 1103,1218 1101,1226 Z"/>
<path class="k" d="M1184,1193 C1190,1215 1198,1232 1205,1234 C1215,1234 1228,1210 1234,1177 Z"/>
<path class="w" d="M1190,1191 C1194,1202 1200,1207 1207,1207 C1215,1207 1222,1198 1227,1181 Z"/>
<path d="M1100.7,1234 C1110,1238 1120,1235 1133.6,1229.4 C1140,1226 1145,1225 1149,1225 C1160,1227 1175,1240 1192.6,1241 C1210,1242 1230,1238 1262,1225"/>
<path d="M1112.8,1239.7 L1030,1244 C1024,1245 1023,1250 1025,1254 L1047,1291 L1060.8,1291"/>
<path class="k" d="M1040,1256 C1050,1250 1075,1250 1085,1254 C1080,1265 1075,1274 1069.5,1280.6 C1058,1275 1048,1265 1040,1256 Z"/>
<path d="M1057.3,1290.8 C1068,1292 1078,1293 1088.5,1295.2 C1100,1298 1110,1302 1119.7,1304 C1130,1305 1140,1304 1151,1301 C1160,1295 1168,1290 1173.5,1282.1"/>
<path d="M1081.6,1327.3 C1084,1332 1086,1335 1088.5,1336.1 C1098,1338 1108,1338 1116.3,1337.6 C1126,1335 1135,1331 1140.5,1327.3 C1150,1318 1158,1310 1164.8,1304 C1168,1295 1171,1288 1173.5,1282"/>
<path d="M1057.3,1291 L1074.7,1336.1 L1078,1310 M1102.4,1305.4 L1119.7,1337.6 L1130.1,1304"/>
<path d="M1082,1322 L1085,1315 L1088,1320 L1091,1313 L1094,1318 M1133,1318 L1138,1312 L1141,1316 L1146,1308 L1150,1312 L1155,1302 M1088,1332 L1092,1328 L1095,1332 L1099,1328 L1102,1332"/>
<path d="M1078,1325 C1075,1335 1078,1340 1085,1345 C1095,1352 1105,1357 1120,1358 C1130,1358 1135,1355 1140,1353 L1180,1345"/>
<path d="M1135.3,1356.6 L1137.1,1371 M1227.2,1333.2 L1232,1346 L1237.6,1371 M1303.5,1292.3 C1303,1320 1308,1345 1317.3,1371"/>
<path d="M1282.7,1169.5 L1303.5,1195.8 L1319.1,1216.3"/>
<path d="M1262,1225 L1241,1256 L1272,1241 L1231,1267 L1270,1262 L1246,1282 L1276,1278 L1230,1300 L1250,1305 L1208,1336"/>
<path d="M1262,1203 L1307,1175 L1295,1200 L1286,1235 L1326,1215 L1310,1240 L1295,1269 L1328,1260 L1310,1280 L1272,1305 L1307,1297 L1243,1333"/>
<path d="M1092,1216 L1069.5,1193 C1070,1210 1074,1220 1080,1228 M1061,1224 C1064,1232 1068,1236 1072,1238"/>
</g>
</svg>
</body></html>
